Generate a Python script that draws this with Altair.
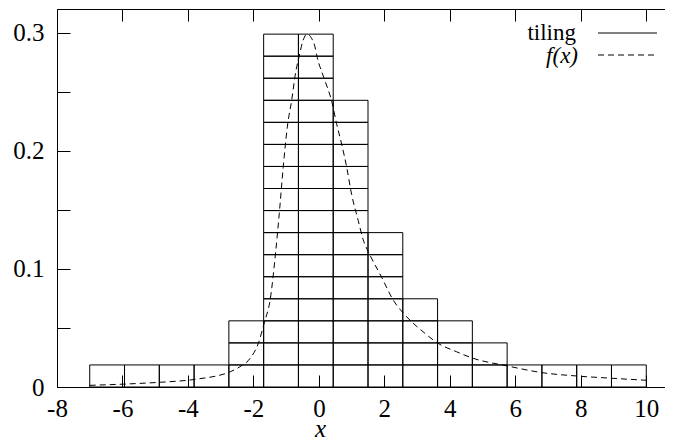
import altair as alt
import pandas as pd

# ---- data ----
bin_start = -7.0
bin_width = 17.0 / 16.0
cell_counts = [1, 1, 1, 1, 3, 16, 16, 13, 7, 4, 3, 2, 1, 1, 1, 1]
cell_height = 0.01867

curve_x = [-7.0, -5.92, -4.85, -3.78, -2.71, -2.41, -2.10, -1.85, -1.66, -1.49,
           -1.33, -1.21, -1.09, -0.965, -0.83, -0.70, -0.61, -0.50, -0.36, -0.22,
           -0.12, -0.05, 0.15, 0.39, 0.54, 0.70, 0.85, 1.0, 1.2, 1.35,
           1.56, 1.91, 2.27, 2.68, 3.18, 3.64, 4.20, 4.71, 5.73, 6.83,
           7.88, 8.95, 10.0]
curve_y = [0.0014, 0.0025, 0.0040, 0.0065, 0.0129, 0.0172, 0.0243, 0.0370, 0.0552, 0.0736,
           0.1117, 0.147, 0.186, 0.220, 0.243, 0.268, 0.279, 0.292, 0.2987, 0.295,
           0.288, 0.279, 0.262, 0.242, 0.223, 0.205, 0.186, 0.163, 0.141, 0.125,
           0.1117, 0.0933, 0.0736, 0.0595, 0.0468, 0.0370, 0.0299, 0.0243, 0.0180, 0.0121,
           0.0093, 0.0074, 0.0057]

x_ticks = [-8, -6, -4, -2, 0, 2, 4, 6, 8, 10]
y_labels = [0, 0.1, 0.2, 0.3]
y_ticks = [0, 0.05, 0.1, 0.15, 0.2, 0.25, 0.3]
legend_labels = ["tiling", "f(x)"]

# ---- build tables ----
rows = []
for i, n in enumerate(cell_counts):
    x0 = bin_start + i * bin_width
    for k in range(n):
        rows.append({"x0": x0, "x1": x0 + bin_width,
                     "y0": k * cell_height, "y1": (k + 1) * cell_height})
cells = pd.DataFrame(rows)
curve = pd.DataFrame({"x": curve_x, "y": curve_y})

FULL_W = 622      # width of the full x range [-8, 11] (right border is off-page)
VIEW_W = 608      # visible part of the plot
H = 378
FONT = "Liberation Serif, DejaVu Serif, Noto Serif, serif"
xs = alt.Scale(domain=[-8, 11], range=[0, FULL_W], nice=False, zero=False)
ys = alt.Scale(domain=[0, 0.32], nice=False, zero=False)

lab = "'' + datum.value"

# layer 1: tiling cells, with labelled axes (bottom / left) and frame lines
tiles = alt.Chart(cells).mark_rect(fill="white", fillOpacity=0, stroke="black", strokeWidth=1).encode(
    x=alt.X("x0:Q", scale=xs, axis=alt.Axis(
        orient="bottom", values=x_ticks, ticks=False, tickSize=0, labelPadding=9,
        labelFlush=False, domain=True,
        labelExpr=lab, title="x", titleFont=FONT, titleFontStyle="italic",
        titleFontWeight="normal", titleFontSize=25, titleBaseline="alphabetic",
        titleX=263, titleY=49, titleAlign="center")),
    x2="x1:Q",
    y=alt.Y("y0:Q", scale=ys, axis=alt.Axis(
        orient="left", values=y_labels, ticks=False, tickSize=0, labelPadding=13,
        labelFlush=False, domain=True,
        labelExpr=lab, title=None)),
    y2="y1:Q",
)

# layer 2: dashed f(x) curve, inward ticks on bottom and left
fx = alt.Chart(curve).mark_line(color="black", strokeWidth=1, strokeDash=[6, 4],
                                interpolate="monotone").encode(
    x=alt.X("x:Q", scale=xs, axis=alt.Axis(
        orient="top", offset=-H, values=x_ticks, labels=False, tickSize=12, title=None)),
    y=alt.Y("y:Q", scale=ys, axis=alt.Axis(
        orient="right", offset=-VIEW_W, values=y_ticks, labels=False, tickSize=13, title=None)),
)

# layer 3: invisible carrier of the inward ticks on top and right, plus top border
frame = alt.Chart(curve).mark_point(opacity=0).encode(
    x=alt.X("x:Q", scale=xs, axis=alt.Axis(
        orient="bottom", offset=-H, values=x_ticks, labels=False, tickSize=12,
        domain=True, title=None)),
    y=alt.Y("y:Q", scale=ys, axis=alt.Axis(
        orient="left", offset=-FULL_W, values=y_ticks, labels=False, tickSize=13, title=None)),
)

# legend (top right)
leg_df = pd.DataFrame({"label": legend_labels})
leg_t1 = alt.Chart(leg_df).transform_filter("datum.label == 'tiling'").mark_text(
    font=FONT, fontSize=23, align="right", baseline="middle", color="black"
).encode(text="label:N", x=alt.value(519), y=alt.value(24))
leg_t2 = alt.Chart(leg_df).transform_filter("datum.label == 'f(x)'").mark_text(
    font=FONT, fontSize=23, fontStyle="italic", align="right", baseline="middle", color="black"
).encode(text="label:N", x=alt.value(521), y=alt.value(47))
leg_l1 = alt.Chart(leg_df).transform_filter("datum.label == 'tiling'").mark_rule(
    color="black", strokeWidth=1
).encode(x=alt.value(541), x2=alt.value(600), y=alt.value(24))
leg_l2 = alt.Chart(leg_df).transform_filter("datum.label == 'f(x)'").mark_rule(
    color="black", strokeWidth=1, strokeDash=[6, 4]
).encode(x=alt.value(541), x2=alt.value(600), y=alt.value(46))

chart = alt.layer(tiles, fx, frame, leg_t1, leg_t2, leg_l1, leg_l2).resolve_axis(
    x="independent", y="independent"
).properties(
    width=VIEW_W, height=H,
    autosize=alt.AutoSizeParams(type="none"),
    padding={"left": 49, "top": 1, "right": 0, "bottom": 51},
).configure_view(strokeWidth=0, stroke=None).configure_axis(
    grid=False, domain=False, domainColor="black", domainWidth=1,
    tickColor="black", tickWidth=1,
    labelColor="black", labelFont=FONT, labelFontSize=25,
    titleColor="black",
)

chart.save("out.html", embed_options={"renderer": "svg", "actions": False})
